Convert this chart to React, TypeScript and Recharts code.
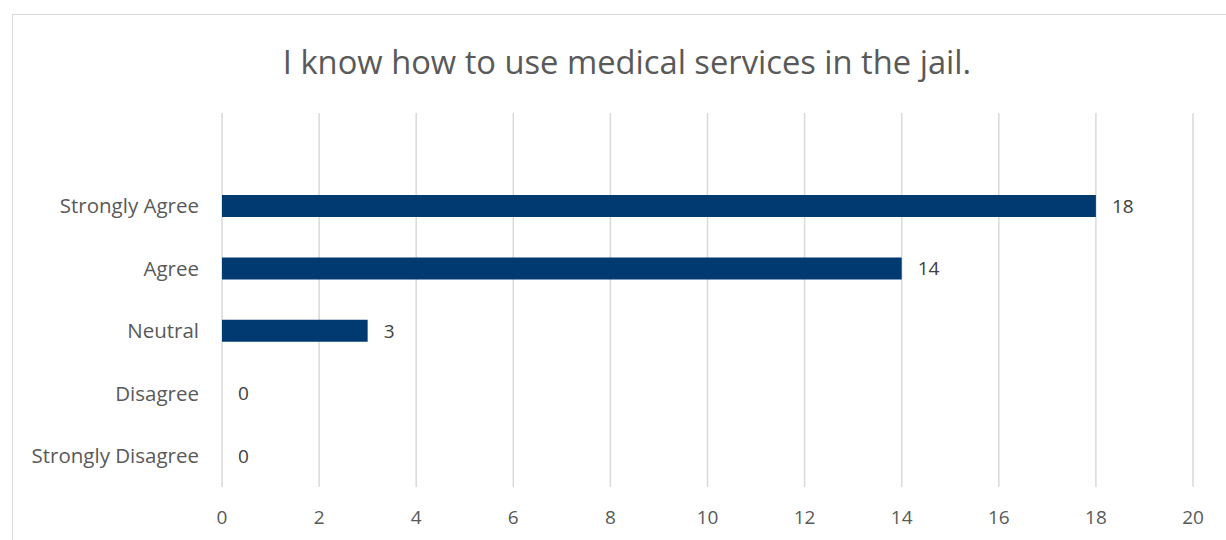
import { ComposedChart, Bar, Line, XAxis, YAxis, CartesianGrid, LabelList } from "recharts"

const TITLE = "I know how to use medical services in the jail."
const categories = ["Strongly Agree", "Agree", "Neutral", "Disagree", "Strongly Disagree"]
const responses = [18, 14, 3, 0, 0]
const xTicks = [0, 2, 4, 6, 8, 10, 12, 14, 16, 18, 20]

const data = categories.map((name, i) => ({ name, value: responses[i] }))

const FONT = "'Open Sans', sans-serif"
const TEXT = "#595959"

export default function App() {
  return (
    <div style={{ position: "absolute", left: 0, top: 0, width: 1226, height: 540, overflow: "hidden", background: "#fff", fontFamily: FONT }}>
      <div
        style={{
          position: "absolute",
          left: 12,
          top: 14,
          width: 1400,
          height: 700,
          border: "1px solid #d9d9d9",
        }}
      />
      <div
        style={{
          position: "absolute",
          left: 12,
          width: 1230,
          top: 40,
          textAlign: "center",
          fontSize: 32.7,
          color: TEXT,
          lineHeight: "44px",
        }}
      >
        {TITLE}
      </div>
      <div style={{ position: "absolute", left: 0, top: 0 }}>
        <ComposedChart
          width={1226}
          height={540}
          data={data}
          layout="vertical"
          margin={{ top: 113, right: 33, bottom: 0, left: 0 }}
          barSize={22}
        >
          <CartesianGrid horizontal={false} stroke="#d9d9d9" strokeWidth={1.5} />
          <XAxis
            type="number"
            domain={[0, 20]}
            ticks={xTicks}
            height={53}
            axisLine={false}
            tickLine={false}
            tickMargin={18}
            tick={{ fill: TEXT, fontSize: 19, fontFamily: FONT }}
          />
          <YAxis
            type="category"
            dataKey="name"
            width={222}
            padding={{ top: 62, bottom: 0 }}
            axisLine={false}
            tickLine={false}
            tickMargin={17}
            tick={{ fill: TEXT, fontSize: 20.5, fontFamily: FONT }}
          />
          <Bar dataKey="value" fill="#003a70" isAnimationActive={false} />
          {/* invisible line only carries the value labels, so zero rows get one too */}
          <Line dataKey="value" stroke="none" dot={false} activeDot={false} isAnimationActive={false}>
            <LabelList dataKey="value" position="right" offset={16} fill="#404040" fontSize={19} fontFamily={FONT} />
          </Line>
        </ComposedChart>
      </div>
    </div>
  )
}
